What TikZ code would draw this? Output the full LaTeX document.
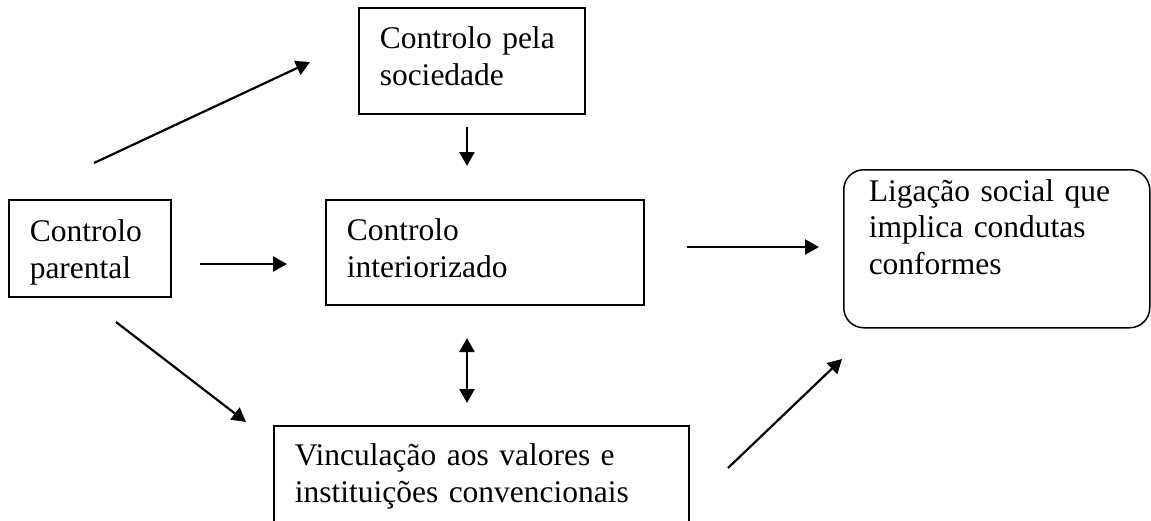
\documentclass[tikz,border=0pt]{standalone}
\usepackage{fontspec}
\setmainfont{Liberation Serif}
\usetikzlibrary{arrows.meta}

\tikzset{
  caixa/.style={draw, line width=0.75pt, rectangle, anchor=north west, align=left, inner xsep=10.5pt, inner ysep=3pt},
  seta/.style={line width=1.1pt, >={Triangle[length=7pt,width=7.5pt]}}
}

\begin{document}
\begin{tikzpicture}[x=0.5pt, y=-0.5pt, font=\fontsize{15.75}{18.25}\selectfont]
			\useasboundingbox (0,0) rectangle (1151,520);
			\clip (0,0) rectangle (1151,520);
			
			\node[caixa, text width=92pt, text height=17.5pt, text depth=29.5pt] (sociedade) at (358,7) {Controlo pela\\sociedade};
			\node[caixa, text width=60pt, text height=18pt, text depth=24.5pt] (parental) at (8,199) {Controlo\\parental};
			\node[caixa, text width=138pt, text height=17.5pt, text depth=29pt] (interiorizado) at (325,199) {Controlo\\interiorizado};
			\node[caixa, rounded corners=10pt, inner xsep=12.5pt, text width=128pt, text height=12.75pt, text depth=60.25pt] (ligacao) at (843,169) {Ligação social que\\implica condutas\\conformes};
			\node[caixa, text width=186.5pt, text height=17pt, text depth=32pt] (vinculacao) at (273,425) {Vinculação aos valores e\\instituições convencionais};
			
			% pontas das setas
			\coordinate (pa-so) at (94,163);
			\coordinate (so-pa) at (310,62);
			\coordinate (so-in) at (467,127);
			\coordinate (in-so) at (467,166);
			\coordinate (pa-in) at (200,264);
			\coordinate (in-pa) at (287,264);
			\coordinate (in-li) at (687,247);
			\coordinate (li-in) at (819,247);
			\coordinate (pa-vi) at (116,322);
			\coordinate (vi-pa) at (246,422);
			\coordinate (in-vi) at (467,338);
			\coordinate (vi-in) at (467,403);
			\coordinate (vi-li) at (728,468);
			\coordinate (li-vi) at (842,359);
			
			\draw[seta,->] (pa-so) -- (so-pa);
			\draw[seta,->] (so-in) -- (in-so);
			\draw[seta,->] (pa-in) -- (in-pa);
			\draw[seta,->] (in-li) -- (li-in);
			\draw[seta,->] (pa-vi) -- (vi-pa);
			\draw[seta,<->] (in-vi) -- (vi-in);
			\draw[seta,->] (vi-li) -- (li-vi);
			
\end{tikzpicture}
\end{document}
